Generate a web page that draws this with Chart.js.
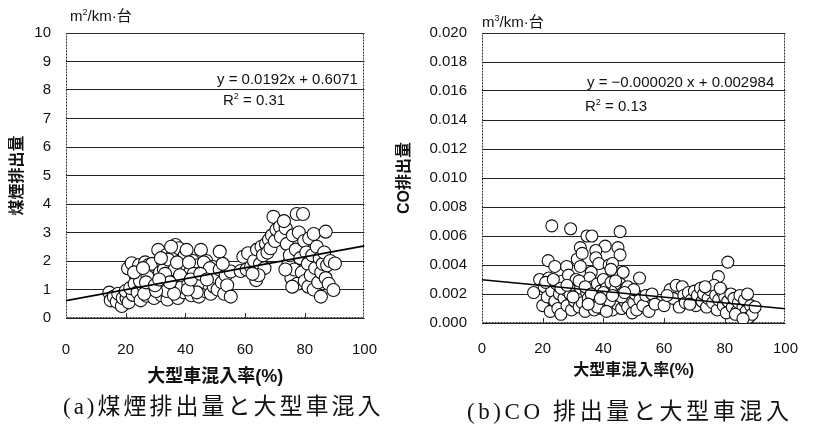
<!DOCTYPE html>
<html><head><meta charset="utf-8">
<script src="https://cdn.jsdelivr.net/npm/chart.js@4.4.1/dist/chart.umd.min.js"></script>
<style>
html,body{margin:0;padding:0;background:#fff;width:815px;height:425px;overflow:hidden;position:relative;font-family:'Liberation Sans','Noto Sans CJK JP',sans-serif;color:#111}
canvas{position:absolute;top:0}
#c1{left:0}
#c2{left:390px}
.t{position:absolute;white-space:nowrap;line-height:1}
.unit{font-size:15px}
.unit sup{font-size:9px;vertical-align:6px;line-height:0}
.eq{font-size:15px}
.cap{font-family:'Liberation Serif','Noto Sans CJK JP',serif;font-size:23px;letter-spacing:3px}
</style></head>
<body>
<canvas id="c1" width="400" height="425"></canvas>
<canvas id="c2" width="425" height="425"></canvas>
<div class="t unit" style="left:70px;top:8px">m<sup>2</sup>/km·台</div>
<div class="t unit" style="left:482px;top:14px">m<sup>3</sup>/km·台</div>
<div class="t eq" style="left:217px;top:71px">y = 0.0192x + 0.6071</div>
<div class="t eq" style="left:223px;top:92px">R<sup style="font-size:9px;line-height:0">2</sup> = 0.31</div>
<div class="t eq" style="left:587px;top:74px">y = −0.000020 x + 0.002984</div>
<div class="t eq" style="left:585px;top:98px">R<sup style="font-size:9px;line-height:0">2</sup> = 0.13</div>
<div class="t cap" style="left:63px;top:395px">(a)煤煙排出量と大型車混入</div>
<div class="t cap" style="left:467px;top:400px;letter-spacing:3.6px">(b)CO 排出量と大型車混入</div>
<script>
// ---- data ----
const xTickValues = [0, 20, 40, 60, 80, 100];
const xTickLabels = ['0', '20', '40', '60', '80', '100'];
const smokeYTickValues = [0, 1, 2, 3, 4, 5, 6, 7, 8, 9, 10];
const smokeYTickLabels = ['0', '1', '2', '3', '4', '5', '6', '7', '8', '9', '10'];
const coYTickValues = [0, 0.002, 0.004, 0.006, 0.008, 0.010, 0.012, 0.014, 0.016, 0.018, 0.020];
const coYTickLabels = ['0.000', '0.002', '0.004', '0.006', '0.008', '0.010', '0.012', '0.014', '0.016', '0.018', '0.020'];

const smokeX = [14.5,15,16,17,17.5,18.7,19,20.3,20,21,22.4,21.5,
20.8,22,23.5,24.5,23,24,25,25.5,26,26.5,27,27.7,28,28.5,29,29.5,30,30.5,24.8,26.2,27.3,28.8,22.8,25.8,
30.9,31,31.5,32,32.5,33,33.5,34,34.5,35,35.5,36,36.7,37,37.5,38,38.5,39,39.5,40,32.8,34.2,35.8,37.8,38.8,39.8,33.8,36.4,31.8,30.2,35.2,37.2,
40.4,41,41.5,42,42.5,43,43.5,44,44.5,45.2,45.5,46,46.5,47,47.5,48,48.5,49,49.5,50,41.2,42.8,44.2,46.2,48.2,43.8,40.8,
51.5,50.8,51.5,52.2,53,53.5,54,55.2,55.2,52.5,
59.4,58.5,61,60.5,62,63.7,63,64,65,65.5,66,67,67.5,68,68.5,69,69.5,70,70.5,71.7,72,73.6,73,66.5,64.5,62.5,
74,74.5,75,75.5,76,76.5,77.3,77,77.5,78,78.5,79.4,79,79.8,80,80.5,81,81.2,81.5,82,82.5,83,83,83.5,84,84.5,85,85.4,85.5,86,86.5,87,87,87.5,88,88.5,89.6,90.1,73.5,75.8,
26.8,29.8,33.2,36.2,38.2,41.8,45,47.2,34.8,31.2];
const smokeY = [0.89,0.62,0.75,0.57,0.85,0.42,0.7,0.69,0.95,0.55,0.81,1.05,
1.74,1.92,1.42,1.86,1.2,0.9,0.62,1.55,1.1,1.95,0.78,1.86,1.3,1.0,1.65,0.7,1.4,1.85,1.3,0.85,1.45,1.9,1.6,1.75,
2.39,1.1,1.6,0.8,1.95,1.3,2.2,0.65,1.5,1.05,1.85,2.3,2.56,1.2,0.7,1.65,2.0,1.35,0.9,1.8,1.7,2.05,1.4,2.45,1.1,2.2,0.95,1.7,2.1,0.95,2.5,1.95,
2.39,1.2,1.6,0.8,2.0,1.4,1.05,1.85,0.75,2.39,1.3,1.65,0.95,2.0,1.2,1.5,0.85,1.8,1.1,1.45,1.95,1.55,1.2,1.95,1.75,0.9,1.0,
2.33,1.0,1.7,1.25,0.85,1.5,1.15,0.75,1.63,1.9,
2.15,1.65,2.27,1.7,1.8,1.33,2.0,2.4,1.9,2.5,2.2,2.6,2.3,2.75,2.45,2.9,3.55,2.7,3.1,3.2,2.85,3.15,3.4,1.75,1.5,1.55,
2.6,1.9,2.2,1.4,2.9,1.7,3.65,2.4,1.2,3.0,2.1,3.65,1.6,2.7,1.3,2.3,1.9,1.1,2.8,1.5,2.2,2.95,1.0,1.75,2.5,1.25,2.1,0.75,1.6,1.9,2.3,3.03,1.4,1.85,1.2,2.0,0.98,1.91,1.7,1.1,
1.25,1.15,1.55,0.85,1.5,1.35,1.55,1.35,1.25,1.35];
const smokeTrendX = [0, 100];
const smokeTrendY = [0.61, 2.53];

const coX = [23,29.2,34.6,36.2,45.5,32.4,40.6,44.8,37.5,45.5,21.8,24,27.9,31.4,32.4,37.5,38.5,41.9,43,81,77.9,51.9,33,42.5,46.5,36,
17,19,20,20.5,21.5,22,22.5,23,24,24.5,25,25.5,26,26.5,27,27.5,28,28.5,29,29.5,30,30.5,31,31.5,32,32.5,33,33.5,34,34.5,
35,35.5,36,36.5,37,37.5,38,38.5,39,39.5,40,40.5,41,41.5,42,42.5,43,43.5,44,44.5,45,45.5,46,46.5,47,47.5,48,48.5,49,49.5,
50,50.5,51,52,53,54,55,56,57,
21,23.5,26,28,30,32,34,36,38,40,42,44,46,48,50,35,39,43,47,41,
60,62,63,64,65,66,66.5,67,68,69,70,70.5,71,72,72.5,73,74,74.5,75,76,76.5,77,77.5,78,79,79.5,80,80.5,81,82,
82.5,83,84,84.5,85,85.5,86,86.5,87,87.5,88,88.5,89,90,61,68.5,73.5,78.5,83.5,86];
const coY = [0.0067,0.0065,0.0060,0.0060,0.0063,0.0052,0.0053,0.0052,0.0050,0.0047,0.0043,0.0039,0.0039,0.0044,0.0039,0.0045,0.0041,0.0040,0.0041,0.0042,0.0032,0.0031,0.0048,0.0037,0.0035,0.0035,
0.0021,0.0030,0.0012,0.0025,0.0018,0.0031,0.0008,0.0022,0.0015,0.0027,0.0010,0.0020,0.0006,0.0029,0.0017,0.0023,0.0012,0.0033,0.0020,0.0009,0.0026,0.0015,0.0030,0.0019,0.0011,0.0024,0.0014,0.0028,0.0008,0.0021,
0.0017,0.0031,0.0012,0.0025,0.0009,0.0019,0.0027,0.0014,0.0022,0.0010,0.0030,0.0017,0.0024,0.0012,0.0020,0.0028,0.0009,0.0016,0.0023,0.0013,0.0019,0.0027,0.0010,0.0021,0.0015,0.0024,0.0011,0.0018,0.0022,0.0007,
0.0014,0.0020,0.0009,0.0016,0.0012,0.0019,0.0008,0.0020,0.0013,
0.0028,0.0030,0.0024,0.0026,0.0018,0.0029,0.0025,0.0020,0.0011,0.0021,0.0015,0.0029,0.0018,0.0025,0.0023,0.0013,0.0017,0.0019,0.0021,0.0008,
0.0012,0.0023,0.0017,0.0026,0.0011,0.0025,0.0019,0.0014,0.0021,0.0016,0.0022,0.0012,0.0019,0.0024,0.0015,0.0020,0.0011,0.0017,0.0023,0.0014,0.0026,0.0019,0.0009,0.0016,0.0022,0.0012,0.0018,0.0007,0.0015,0.0020,
0.0011,0.0017,0.0008,0.0014,0.0019,0.0005,0.0011,0.0016,0.0008,0.0020,0.0004,0.0012,0.0006,0.0011,0.0019,0.0013,0.0025,0.0024,0.0006,0.0003];
const coTrendX = [0, 100];
const coTrendY = [0.00298, 0.00098];

// ---- rendering ----
Chart.defaults.font.family = "'Liberation Sans','Noto Sans CJK JP',sans-serif";
Chart.defaults.color = '#111';

const framePlugin = {
  id: 'frame',
  beforeDatasetsDraw(chart) {
    const {ctx, chartArea: a, scales: {x}} = chart;
    ctx.save();
    ctx.strokeStyle = '#333';
    ctx.lineWidth = 1;
    ctx.setLineDash([2, 1]);
    ctx.strokeRect(Math.round(a.left) + 0.5, Math.round(a.top) + 0.5, Math.round(a.right - a.left) - 1, Math.round(a.bottom - a.top) - 1);
    ctx.setLineDash([]);
    ctx.beginPath();
    xTickValues.slice(1, -1).forEach(v => {
      const px = Math.round(x.getPixelForValue(v)) + 0.5;
      ctx.moveTo(px, a.bottom);
      ctx.lineTo(px, a.bottom - 5);
    });
    ctx.stroke();
    ctx.restore();
  }
};

function makeChart(id, cfg) {
  const pts = cfg.xs.map((x, i) => ({x, y: cfg.ys[i]}));
  const trend = cfg.tx.map((x, i) => ({x, y: cfg.ty[i]}));
  return new Chart(document.getElementById(id), {
    type: 'scatter',
    data: {
      datasets: [
        {type: 'line', data: trend, borderColor: '#000', borderWidth: 1.6, pointRadius: 0, fill: false, order: 0},
        {data: pts, pointRadius: cfg.r, pointBackgroundColor: '#fff', pointBorderColor: '#111', pointBorderWidth: 1.1, order: 1}
      ]
    },
    options: {
      responsive: false,
      animation: false,
      devicePixelRatio: 1,
      layout: {padding: {left: 0, top: 33, right: cfg.padRight, bottom: 0}},
      plugins: {legend: {display: false}, tooltip: {enabled: false}},
      scales: {
        x: {
          type: 'linear', min: 0, max: 100,
          afterBuildTicks: s => { s.ticks = xTickValues.map(v => ({value: v})); },
          ticks: {callback: (v, i) => xTickLabels[i], padding: cfg.xTickPad, font: {size: 15}, maxRotation: 0, autoSkip: false},
          grid: {display: false, drawTicks: false},
          border: {display: false},
          title: {display: true, text: '大型車混入率(%)', font: {size: cfg.xTitleSize, weight: 'bold'}, padding: {top: 0, bottom: cfg.xTitlePad}},
          afterFit: s => { s.height = cfg.xHeight; }
        },
        y: {
          type: 'linear', min: cfg.ymin, max: cfg.ymax,
          afterBuildTicks: s => { s.ticks = cfg.yTickValues.map(v => ({value: v})); },
          ticks: {callback: (v, i) => cfg.yTickLabels[i], padding: 15, font: {size: 15}},
          grid: {color: '#222', lineWidth: 1, drawTicks: false},
          border: {display: false},
          title: {display: true, text: cfg.yTitle, font: {size: 16, weight: 'bold'}, padding: {top: cfg.yTitlePad, bottom: 0}},
          afterFit: s => { s.width = cfg.yWidth; }
        }
      }
    },
    plugins: [framePlugin]
  });
}

makeChart('c1', {
  xs: smokeX, ys: smokeY, tx: smokeTrendX, ty: smokeTrendY, r: 6.5,
  padRight: 19, xTickPad: 23, xTitleSize: 18, xTitlePad: 37, xHeight: 107,
  ymin: 0, ymax: 10, yTickValues: smokeYTickValues, yTickLabels: smokeYTickLabels,
  yTitle: '煤煙排出量', yTitlePad: 8, yWidth: 66
});
makeChart('c2', {
  xs: coX, ys: coY, tx: coTrendX, ty: coTrendY, r: 6,
  padRight: 21, xTickPad: 17, xTitleSize: 16, xTitlePad: 45, xHeight: 102,
  ymin: 0, ymax: 0.02, yTickValues: coYTickValues, yTickLabels: coYTickLabels,
  yTitle: 'CO排出量', yTitlePad: 5, yWidth: 92
});
</script>
</body></html>
